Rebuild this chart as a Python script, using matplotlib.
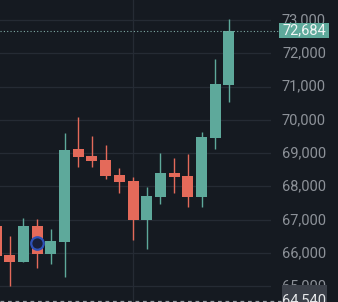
import matplotlib
matplotlib.use("Agg")
import matplotlib.pyplot as plt
from matplotlib.patches import Rectangle

opens  = [66814, 65943, 65733, 66814, 65973, 66333, 69117, 68925, 68796, 68345,
          68165, 66994, 67694, 68405, 68324, 67676, 69456, 71039]
closes = [65913, 65733, 66814, 65973, 66363, 69096, 68895, 68766, 68324, 68135,
          66994, 67715, 68405, 68294, 67676, 69496, 71078, 72684]
highs  = [66900, 66514, 67054, 67024, 66724, 69616, 70078, 69502, 69237, 68565,
          68295, 67976, 69015, 68856, 68976, 69637, 71838, 73039]
lows   = [65800, 65012, 65718, 65553, 65673, 65282, 68577, 68577, 68234, 67814,
          66393, 66123, 67475, 67814, 67393, 67393, 69117, 70537]
yticks = [65000, 66000, 67000, 68000, 69000, 70000, 71000, 72000, 73000]
last_price = 72684
low_price = 64540
marker_idx = 3
marker_val = 66300

BG = "#151a21"
UP = "#5ea99b"
DN = "#e46a5a"
GRID = "#252b34"
TXT = "#8d9299"

fig = plt.figure(figsize=(3.38, 3.02), dpi=100, facecolor=BG)
ax = fig.add_axes([0, 0, 271/338, 1])
ax.set_facecolor(BG)
ax.set_xlim(0.29, 20.07)
ax.set_ylim(64531.5, 73600.6)
for s in ax.spines.values():
    s.set_visible(False)
ax.set_xticks([])
ax.set_yticks([])

for v in yticks:
    ax.axhline(v, color=GRID, lw=0.9, zorder=0)
ax.axvline(10, color=GRID, lw=0.9, zorder=0)

w = 0.8
for i, (o, c, h, l) in enumerate(zip(opens, closes, highs, lows)):
    col = UP if c >= o else DN
    ax.plot([i, i], [l, h], color=col, lw=1.0, zorder=2, solid_capstyle="butt")
    ax.add_patch(Rectangle((i - w/2, min(o, c)), w, max(abs(c - o), 25),
                           facecolor=col, edgecolor="none", zorder=3))

ax.plot([marker_idx], [marker_val], marker="o", ms=9, mfc="#19203a",
        mec="#2e52b8", mew=1.6, zorder=4)

# price lines (span into label area)
fig.add_artist(plt.Line2D([0, 280/338], [1 - 31/302, 1 - 31/302],
               color="#7fa9a3", lw=0.8, ls=(0, (1, 2)), transform=fig.transFigure))
fig.add_artist(plt.Line2D([0, 281/338], [1 - 300.8/302, 1 - 300.8/302],
               color="#9aa0a6", lw=0.9, ls=(0, (3, 3)), transform=fig.transFigure))

def ypix(v):
    return (v - 64531.5) / (73600.6 - 64531.5)

for v in yticks:
    fig.text(304/338, ypix(v), f"{v:,}", ha="center", va="center",
             fontsize=10.5, color=TXT, family="Roboto")

# last price label
fig.patches.append(Rectangle((279/338, 1 - 37.5/302), 49.5/338, 14.5/302,
                             facecolor=UP, edgecolor="none", transform=fig.transFigure, zorder=5))
fig.text(304/338, 1 - 30.5/302, f"{last_price:,}", ha="center", va="center",
         fontsize=10.5, color="#f2f5f5", family="Roboto", zorder=6)

# low price label
fig.patches.append(Rectangle((281.5/338, 0), 45.5/338, 17/302,
                             facecolor="#3b4049", edgecolor="none", transform=fig.transFigure, zorder=5))
fig.text(304/338, ypix(low_price) + 0.005, f"{low_price:,}", ha="center", va="center",
         fontsize=10.5, color="#e6e8ea", family="Roboto", zorder=6)

fig.savefig("out.png", dpi=100, facecolor=BG)
